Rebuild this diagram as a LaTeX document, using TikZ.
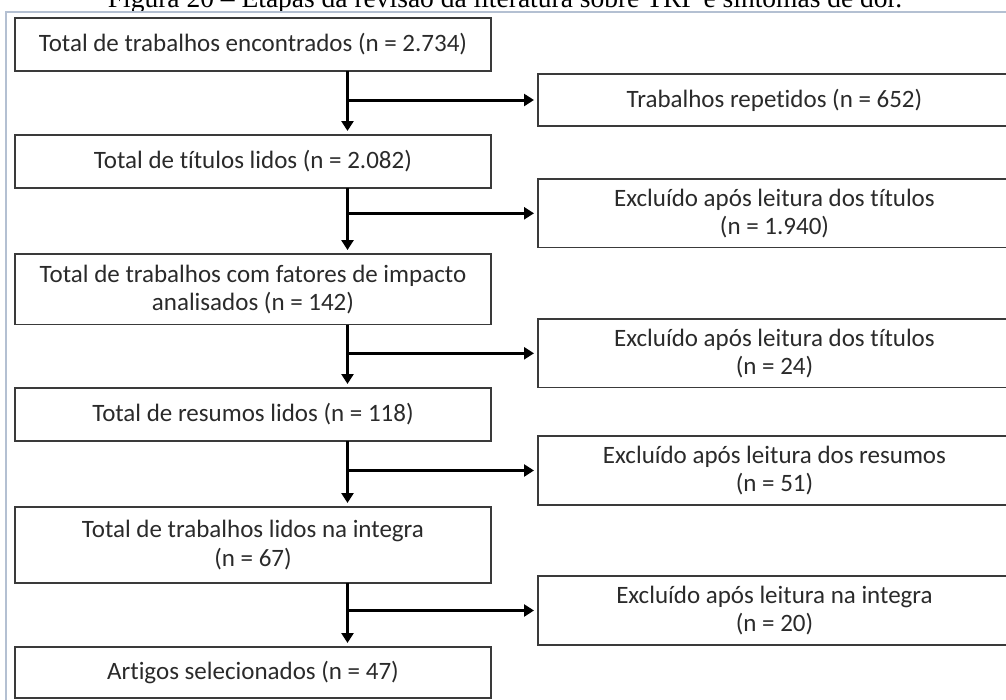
\documentclass[tikz,border=0pt]{standalone}
\usepackage{fontspec}
\setmainfont{Carlito}[Ligatures={NoCommon}]
\newfontfamily\capfont{Liberation Serif}
\usetikzlibrary{arrows.meta}
\definecolor{boxline}{HTML}{3A3A3A}
\definecolor{inktext}{HTML}{2A2A2A}
\definecolor{framecol}{HTML}{B4C0D2}
\tikzset{
  stage/.style={draw=boxline, line width=1.8pt, rectangle, inner sep=0pt, outer sep=0pt,
    minimum width=476pt, align=center, text=inktext,
    font=\fontsize{25}{28.3}\selectfont},
  excl/.style={stage, minimum width=473pt},
  flow/.style={line width=3pt, -{Triangle[width=12pt,length=10pt]}, shorten >=4pt},
}
\begin{document}
\begin{tikzpicture}[x=1pt, y=-1pt]
\useasboundingbox (0,0) rectangle (1006,699);
\clip (0,0) rectangle (1006,699);

% caption line (mostly above the visible area)
\node[anchor=base, inner sep=0pt, font=\capfont\fontsize{27.5}{30}\selectfont] (cap) at (505,7.5)
  {Figura 20 – Etapas da revisão da literatura sobre TRP e sintomas de dor.};

% light frame around the figure
\draw[framecol, line width=2pt] (5.5,800) |- (1200,12);

% main sequence of stages
\node[stage, minimum height=52.7pt] (b1) at (253,44.4) {Total de trabalhos encontrados (n = 2.734)};
\node[stage, minimum height=53pt]   (b2) at (253,161.5) {Total de títulos lidos (n = 2.082)};
\node[stage, minimum height=70.5pt] (b3) at (253,289.3) {Total de trabalhos com fatores de impacto\\analisados (n = 142)};
\node[stage, minimum height=53pt]   (b4) at (253,414.5) {Total de resumos lidos (n = 118)};
\node[stage, minimum height=76pt]   (b5) at (253,545) {Total de trabalhos lidos na integra\\(n = 67)};
\node[stage, minimum height=51pt]   (b6) at (253,672.5) {Artigos selecionados (n = 47)};

% excluded records
\node[excl, minimum height=52pt]  (r1) at (774.5,100) {Trabalhos repetidos (n = 652)};
\node[excl, minimum height=68.5pt] (r2) at (774.5,213.3) {Excluído após leitura dos títulos\\(n = 1.940)};
\node[excl, minimum height=68.5pt] (r3) at (774.5,353.3) {Excluído após leitura dos títulos\\(n = 24)};
\node[excl, minimum height=69pt]  (r4) at (774.5,470.5) {Excluído após leitura dos resumos\\(n = 51)};
\node[excl, minimum height=69pt]  (r5) at (774.5,610.5) {Excluído após leitura na integra\\(n = 20)};

% vertical spine of the flow
\coordinate (sp) at (347.5,0);

\draw[flow] (b1.south -| sp) -- (b2.north -| sp);
\draw[flow] (b2.south -| sp) -- (b3.north -| sp);
\draw[flow] (b3.south -| sp) -- (b4.north -| sp);
\draw[flow] (b4.south -| sp) -- (b5.north -| sp);
\draw[flow] (b5.south -| sp) -- (b6.north -| sp);

\draw[flow] (r1.west -| sp) -- (r1.west);
\draw[flow] (r2.west -| sp) -- (r2.west);
\draw[flow] (r3.west -| sp) -- (r3.west);
\draw[flow] (r4.west -| sp) -- (r4.west);
\draw[flow] (r5.west -| sp) -- (r5.west);
\end{tikzpicture}
\end{document}
